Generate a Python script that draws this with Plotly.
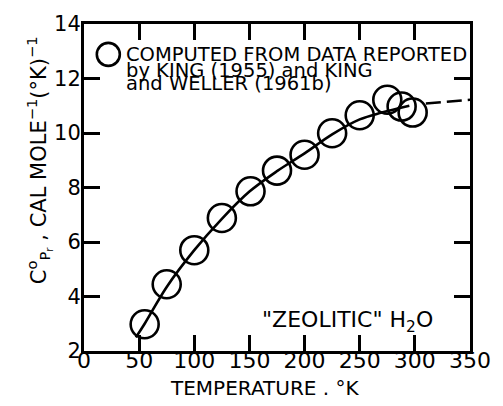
import plotly.graph_objects as go

# Measured heat capacity of "zeolitic" water (open circles)
temp_k = [55, 75, 100, 125, 151, 175, 200, 225, 250, 275, 288, 298]
cp = [2.98, 4.45, 5.70, 6.88, 7.86, 8.62, 9.20, 9.99, 10.65, 11.22, 10.97, 10.75]

# Smoothed curve drawn through the points (solid part)
curve_t = [47, 55, 75, 100, 125, 150, 175, 200, 225, 250, 270, 295]
curve_cp = [2.5, 3.0, 4.35, 5.7, 6.85, 7.85, 8.6, 9.25, 9.95, 10.5, 10.75, 11.0]

# Extrapolated part of the curve (dashed)
extrap_t = [310, 350]
extrap_cp = [11.08, 11.22]

x_ticks = [0, 50, 100, 150, 200, 250, 300, 350]
y_ticks = [2, 4, 6, 8, 10, 12, 14]

FONT = "DejaVu Sans"
INK = "black"

fig = go.Figure()
fig.add_trace(go.Scatter(x=curve_t, y=curve_cp, mode="lines",
                         line=dict(color=INK, width=2.6, shape="spline"),
                         hoverinfo="skip"))
fig.add_trace(go.Scatter(x=extrap_t, y=extrap_cp, mode="lines",
                         line=dict(color=INK, width=2.6, dash="15px,6px"),
                         hoverinfo="skip"))
fig.add_trace(go.Scatter(x=temp_k, y=cp, mode="markers",
                         marker=dict(symbol="circle-open", size=28, color=INK,
                                     line=dict(color=INK, width=2.6))))

axis_common = dict(showgrid=False, zeroline=False, showline=True, linecolor=INK,
                   linewidth=3, mirror="ticks", ticks="inside", ticklen=16,
                   tickwidth=2.5, tickcolor=INK)

fig.update_xaxes(range=[0, 350], tickvals=x_ticks,
                 ticktext=[str(v) for v in x_ticks], ticklabelstandoff=-12,
                 tickfont=dict(family=FONT, size=22, color=INK), **axis_common)
fig.update_yaxes(range=[2, 14], tickvals=y_ticks,
                 ticktext=[str(v) for v in y_ticks], ticklabelstandoff=-4,
                 tickfont=dict(family=FONT, size=21, color=INK), **axis_common)

annotations = [
    dict(text="C<sup>o</sup><sub>P<sub>r</sub></sub> , CAL MOLE<sup>\u22121</sup>(\u00b0K)<sup>\u22121</sup>",
         x=-0.118, y=0.585, xref="paper", yref="paper", textangle=-90,
         xanchor="center", yanchor="middle", showarrow=False,
         font=dict(family=FONT, size=21, color=INK)),
    dict(text="TEMPERATURE . \u00b0K", x=0.467, y=-0.113, xref="paper", yref="paper",
         xanchor="center", yanchor="middle", showarrow=False,
         font=dict(family=FONT, size=20, color=INK)),
    dict(text="\"ZEOLITIC\" H<sub>2</sub>O", x=0.683, y=0.09, xref="paper", yref="paper",
         xanchor="center", yanchor="middle", showarrow=False,
         font=dict(family=FONT, size=22, color=INK)),
]
legend_lines = ["COMPUTED FROM DATA REPORTED",
                "by KING (1955) and KING",
                "and WELLER (1961b)"]
legend_y = [0.906, 0.857, 0.817]
for line, yy in zip(legend_lines, legend_y):
    annotations.append(dict(text=line, x=0.104, y=yy, xref="paper", yref="paper",
                            xanchor="left", yanchor="middle", showarrow=False,
                            font=dict(family=FONT, size=19.5, color=INK)))

fig.update_layout(
    width=503, height=406,
    margin=dict(l=84, r=31, t=19, b=55),
    paper_bgcolor="white", plot_bgcolor="white",
    showlegend=False,
    annotations=annotations,
    shapes=[dict(type="circle", xref="paper", yref="paper",
                 xsizemode="pixel", ysizemode="pixel",
                 xanchor=0.063, yanchor=0.907,
                 x0=-11.5, x1=11.5, y0=-11.5, y1=11.5,
                 line=dict(color=INK, width=2.6))],
)

fig.write_html("out.html")
